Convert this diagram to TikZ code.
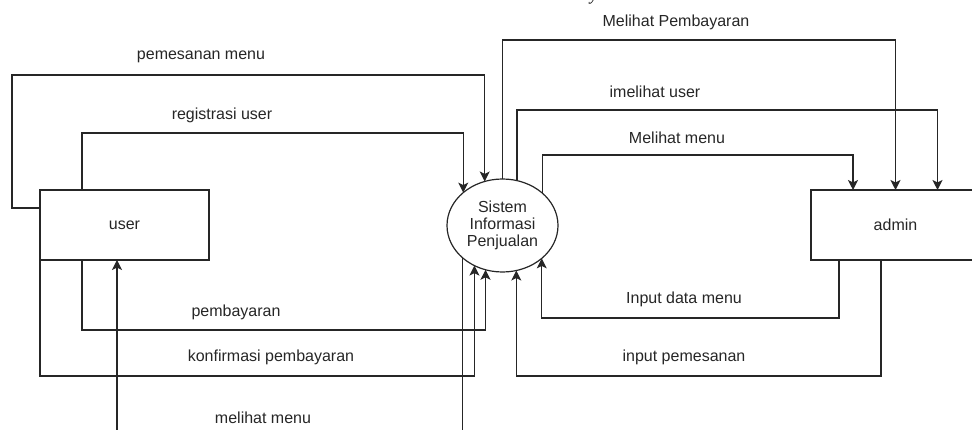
\documentclass[tikz,border=0pt]{standalone}
\usepackage{fontspec}
\setmainfont{Liberation Sans}
\newfontfamily\capfont{Liberation Serif}
\usetikzlibrary{shapes.geometric, arrows.meta}

\begin{document}
\begin{tikzpicture}[x=1pt, y=-1pt,
    entitas/.style={draw=black!85, line width=1.2pt, minimum width=169pt, minimum height=70pt, inner sep=0pt, outer sep=0pt, text=black!85, font=\fontsize{16}{19}\selectfont},
    proses/.style={draw=black!85, line width=1.2pt, ellipse, minimum width=111pt, minimum height=93pt, inner sep=0pt, outer sep=0pt, align=center, text=black!85, font=\fontsize{16}{17}\selectfont},
    alur/.style={draw=black!85, line width=1.2pt, -{Stealth[length=10pt, width=10pt, inset=2.5pt]}},
    ket/.style={text=black!85, font=\fontsize{16}{19}\selectfont, inner sep=1pt}]
    \useasboundingbox (0,0) rectangle (972,430);
    \clip (0,0) rectangle (972,430);

    % sisa judul yang terpotong
    \node[anchor=base, inner sep=0pt, font=\fontsize{17}{17}\selectfont\capfont\itshape] (ycut) at (594,1) {y};

    % Entitas dan proses
    \node[entitas] (user) at (124.5,225) {user};
    \node[entitas] (admin) at (895.5,225) {admin};
    \node[proses] (sip) at (502.5,225.5) {Sistem\\Informasi\\Penjualan};

    % Alur user -> sistem
    \draw[alur] (user.west |- 0,208) -- (12,208) -- (12,75) -| (sip.112.9); % pemesanan menu
    \draw[alur] ([xshift=-42.5pt]user.north) -- (82,133) -| (sip.140.4); % registrasi user
    \draw[alur] ([xshift=-42.5pt]user.south) -- (82,330) -| (sip.249.6); % pembayaran
    \draw[alur] (user.south west) -- (40,376) -| (sip.235.8); % konfirmasi pembayaran
    \draw[alur] (sip.219.6) |- (117,445) -- ([xshift=-7.5pt]user.south); % melihat menu

    % Alur sistem <-> admin
    \draw[alur] (sip.north) -- (502.5,40) -| (admin.north); % Melihat Pembayaran
    \draw[alur] (sip.72.1) -- (sip.72.1 |- 0,110) -| ([xshift=42pt]admin.north); % imelihat user
    \draw[alur] (sip.39.6) -- (sip.39.6 |- 0,155) -| ([xshift=-42.5pt]admin.north); % Melihat menu
    \draw[alur] ([xshift=-56.5pt]admin.south) -- (839,318) -| (sip.320.4); % Input data menu
    \draw[alur] ([xshift=-14.5pt]admin.south) -- (881,376) -| (sip.287.9); % input pemesanan

    % Keterangan alur
    \node[ket] (lpesan) at (201,57) {pemesanan menu};
    \node[ket] (lregis) at (222,115) {registrasi user};
    \node[ket] (lbayar) at (236,312) {pembayaran};
    \node[ket] (lkonf) at (271,357) {konfirmasi pembayaran};
    \node[ket] (llihat) at (263,418) {melihat menu};
    \node[ket] (lbayaran) at (676,22) {Melihat Pembayaran};
    \node[ket] (luser) at (655,92) {imelihat user};
    \node[ket] (lmenu) at (677,138) {Melihat menu};
    \node[ket] (linput) at (684,299) {Input data menu};
    \node[ket] (linpes) at (684,357) {input pemesanan};
\end{tikzpicture}
\end{document}
